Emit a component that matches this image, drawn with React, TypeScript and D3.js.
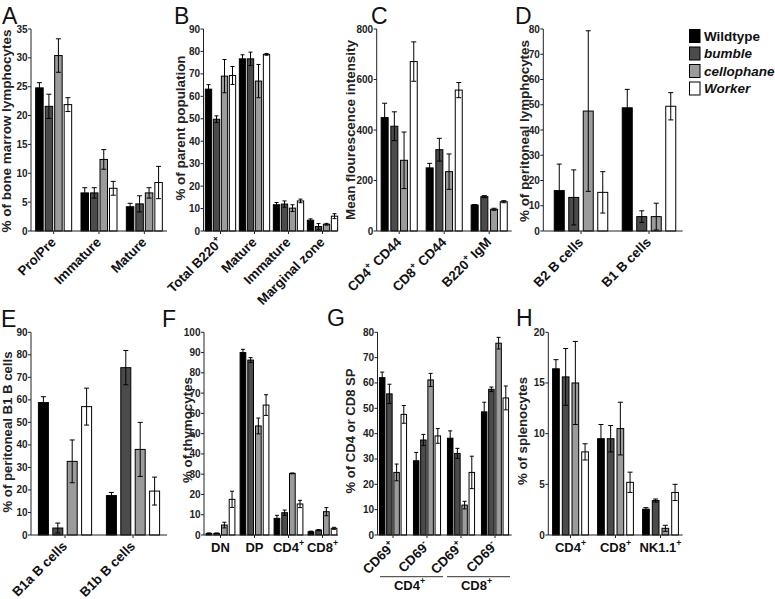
import React from 'react';
import * as d3 from 'd3';

// ---------- DATA ----------
const SERIES = ['Wildtype', 'bumble', 'cellophane', 'Worker'];
const SERIES_COLORS = ['#000000', '#4b4b4b', '#9b9b9b', '#ffffff'];

const A_categories = ['Pro/Pre', 'Immature', 'Mature'];
const A_wildtype = [24.8, 6.6, 4.2];
const A_bumble = [21.6, 6.6, 4.7];
const A_cellophane = [30.4, 12.4, 6.6];
const A_worker = [21.9, 7.4, 8.4];
const A_errWildtype = [0.9, 0.9, 0.6];
const A_errBumble = [2.1, 0.9, 1.4];
const A_errCellophane = [2.9, 1.7, 0.9];
const A_errWorker = [1.2, 1.2, 2.8];
const A_ticks = [0, 5, 10, 15, 20, 25, 30, 35];

const B_categories = ['Total B220+', 'Mature', 'Immature', 'Marginal zone'];
const B_wildtype = [63.2, 76.7, 11.7, 4.8];
const B_bumble = [49.8, 76.7, 12.0, 2.0];
const B_cellophane = [69.0, 66.8, 10.2, 3.0];
const B_worker = [69.3, 78.7, 13.4, 6.6];
const B_errWildtype = [2.0, 1.8, 1.0, 0.6];
const B_errBumble = [1.5, 3.0, 1.4, 1.3];
const B_errCellophane = [7.4, 7.4, 1.5, 0.4];
const B_errWorker = [4.0, 0.4, 0.8, 1.1];
const B_ticks = [0, 10, 20, 30, 40, 50, 60, 70, 80, 90];

const C_categories = ['CD4+ CD44', 'CD8+ CD44', 'B220+ IgM'];
const C_wildtype = [449, 250, 103];
const C_bumble = [415, 322, 136];
const C_cellophane = [280, 235, 86];
const C_worker = [671, 558, 116];
const C_errWildtype = [57, 18, 2];
const C_errBumble = [57, 45, 4];
const C_errCellophane = [112, 70, 4];
const C_errWorker = [78, 30, 4];
const C_ticks = [0, 200, 400, 600, 800];

const D_categories = ['B2 B cells', 'B1 B cells'];
const D_wildtype = [16.0, 48.8];
const D_bumble = [13.3, 5.7];
const D_cellophane = [47.5, 5.7];
const D_worker = [15.3, 49.4];
const D_errWildtype = [10.5, 7.3];
const D_errBumble = [10.9, 2.3];
const D_errCellophane = [31.8, 5.3];
const D_errWorker = [8.2, 5.4];
const D_ticks = [0, 10, 20, 30, 40, 50, 60, 70, 80];

const E_categories = ['B1a B cells', 'B1b B cells'];
const E_wildtype = [58.8, 17.5];
const E_bumble = [3.1, 74.3];
const E_cellophane = [32.7, 38.0];
const E_worker = [57.0, 19.5];
const E_errWildtype = [2.6, 1.4];
const E_errBumble = [2.2, 7.6];
const E_errCellophane = [9.5, 12.0];
const E_errWorker = [8.2, 6.2];
const E_ticks = [0, 10, 20, 30, 40, 50, 60, 70, 80, 90];

const F_categories = ['DN', 'DP', 'CD4+', 'CD8+'];
const F_wildtype = [0.8, 90.0, 8.2, 1.6];
const F_bumble = [0.8, 86.3, 11.0, 2.4];
const F_cellophane = [4.9, 53.8, 30.4, 11.5];
const F_worker = [17.6, 64.1, 15.3, 3.3];
const F_errWildtype = [0.2, 1.6, 1.5, 0.3];
const F_errBumble = [0.2, 1.2, 1.3, 0.3];
const F_errCellophane = [1.4, 3.9, 0.2, 2.0];
const F_errWorker = [4.0, 5.1, 1.8, 0.5];
const F_ticks = [0, 10, 20, 30, 40, 50, 60, 70, 80, 90, 100];

const G_categories = ['CD69+', 'CD69-', 'CD69+', 'CD69-'];
const G_groups = ['CD4+', 'CD8+'];
const G_wildtype = [62.1, 29.3, 38.2, 48.6];
const G_bumble = [55.7, 37.5, 32.2, 57.5];
const G_cellophane = [24.7, 61.2, 11.8, 75.7];
const G_worker = [47.6, 39.1, 24.7, 54.1];
const G_errWildtype = [2.2, 3.3, 2.9, 3.8];
const G_errBumble = [3.8, 2.2, 2.0, 0.9];
const G_errCellophane = [3.3, 2.6, 1.5, 2.3];
const G_errWorker = [3.5, 2.9, 6.4, 4.7];
const G_ticks = [0, 10, 20, 30, 40, 50, 60, 70, 80];

const H_categories = ['CD4+', 'CD8+', 'NK1.1+'];
const H_wildtype = [16.4, 9.5, 2.55];
const H_bumble = [15.6, 9.5, 3.4];
const H_cellophane = [15.0, 10.5, 0.66];
const H_worker = [8.2, 5.2, 4.2];
const H_errWildtype = [0.9, 1.4, 0.15];
const H_errBumble = [2.8, 1.3, 0.15];
const H_errCellophane = [4.1, 2.6, 0.3];
const H_errWorker = [0.8, 1.0, 0.8];
const H_ticks = [0, 5, 10, 15, 20];

// ---------- LAYOUT ----------
const FONT = "'Liberation Sans', Arial, Helvetica, sans-serif";
const TOP1 = 29, BOT1 = 231, TOP2 = 332.3, BOT2 = 535;

type PanelCfg = {
  letter: string; lx: number; ly: number;
  title: string; tx: number; ty: number; tlen: number;
  axisX: number; endX: number; range: [number, number];
  top: number; bottom: number; ticks: number[];
  pitch: number; bw: number; cap: number;
  cats: string[]; vals: number[][]; errs: number[][];
  rot: boolean;
};

const panels: PanelCfg[] = [
  { letter: 'A', lx: 2, ly: 24, title: '% of bone marrow lymphocytes', tx: 7, ty: 131, tlen: 203,
    axisX: 31, endX: 167, range: [31, 167], top: TOP1, bottom: BOT1, ticks: A_ticks,
    pitch: 9.5, bw: 7.5, cap: 5, cats: A_categories,
    vals: [A_wildtype, A_bumble, A_cellophane, A_worker],
    errs: [A_errWildtype, A_errBumble, A_errCellophane, A_errWorker], rot: true },
  { letter: 'B', lx: 174, ly: 24, title: '% of parent population', tx: 181, ty: 128, tlen: 145,
    axisX: 203.5, endX: 337, range: [203.5, 339.5], top: TOP1, bottom: BOT1, ticks: B_ticks,
    pitch: 8, bw: 6.3, cap: 4, cats: B_categories,
    vals: [B_wildtype, B_bumble, B_cellophane, B_worker],
    errs: [B_errWildtype, B_errBumble, B_errCellophane, B_errWorker], rot: true },
  { letter: 'C', lx: 371, ly: 24, title: 'Mean flourescence intensity', tx: 351, ty: 130, tlen: 180,
    axisX: 376.7, endX: 511.7, range: [376.7, 511.7], top: TOP1, bottom: BOT1, ticks: C_ticks,
    pitch: 9.7, bw: 7, cap: 5, cats: C_categories,
    vals: [C_wildtype, C_bumble, C_cellophane, C_worker],
    errs: [C_errWildtype, C_errBumble, C_errCellophane, C_errWorker], rot: true },
  { letter: 'D', lx: 515, ly: 24, title: '% of peritoneal lymphocytes', tx: 525, ty: 131, tlen: 182,
    axisX: 543.3, endX: 682.7, range: [547, 683], top: TOP1, bottom: BOT1, ticks: D_ticks,
    pitch: 14.5, bw: 10, cap: 5, cats: D_categories,
    vals: [D_wildtype, D_bumble, D_cellophane, D_worker],
    errs: [D_errWildtype, D_errBumble, D_errCellophane, D_errWorker], rot: true },
  { letter: 'E', lx: 1, ly: 327, title: '% of peritoneal B1 B cells', tx: 7.5, ty: 432, tlen: 161,
    axisX: 31, endX: 167, range: [31, 167], top: TOP2, bottom: BOT2, ticks: E_ticks,
    pitch: 14.4, bw: 10, cap: 5, cats: E_categories,
    vals: [E_wildtype, E_bumble, E_cellophane, E_worker],
    errs: [E_errWildtype, E_errBumble, E_errCellophane, E_errWorker], rot: true },
  { letter: 'F', lx: 162, ly: 327, title: '% of thymocytes', tx: 188, ty: 430, tlen: 106,
    axisX: 204, endX: 338, range: [203.5, 339.5], top: TOP2, bottom: BOT2, ticks: F_ticks,
    pitch: 7.7, bw: 5.7, cap: 4, cats: F_categories,
    vals: [F_wildtype, F_bumble, F_cellophane, F_worker],
    errs: [F_errWildtype, F_errBumble, F_errCellophane, F_errWorker], rot: false },
  { letter: 'G', lx: 327, ly: 326, title: '% of CD4 or CD8 SP', tx: 351, ty: 431, tlen: 125,
    axisX: 377.5, endX: 511.7, range: [376, 512], top: TOP2, bottom: BOT2, ticks: G_ticks,
    pitch: 7.2, bw: 5.5, cap: 4, cats: G_categories,
    vals: [G_wildtype, G_bumble, G_cellophane, G_worker],
    errs: [G_errWildtype, G_errBumble, G_errCellophane, G_errWorker], rot: true },
  { letter: 'H', lx: 516, ly: 326, title: '% of splenocytes', tx: 522.5, ty: 431, tlen: 108,
    axisX: 548.3, endX: 682.7, range: [548, 683], top: TOP2, bottom: BOT2, ticks: H_ticks,
    pitch: 9.7, bw: 6.7, cap: 5, cats: H_categories,
    vals: [H_wildtype, H_bumble, H_cellophane, H_worker],
    errs: [H_errWildtype, H_errBumble, H_errCellophane, H_errWorker], rot: false },
];

function labelSpans(s: string, fs: number) {
  const parts: { t: string; sup: boolean }[] = [];
  let buf = '';
  for (let i = 0; i < s.length; i++) {
    const c = s[i];
    if ((c === '+' || c === '-') && i > 0 && s[i - 1] !== ' ' && (i === s.length - 1 || s[i + 1] === ' ')) {
      if (buf) parts.push({ t: buf, sup: false });
      buf = '';
      parts.push({ t: c, sup: true });
    } else buf += c;
  }
  if (buf) parts.push({ t: buf, sup: false });
  let prevSup = false;
  return parts.map((p, i) => {
    let dy: number | undefined;
    if (p.sup) dy = -fs * 0.42;
    else if (prevSup) dy = fs * 0.42;
    prevSup = p.sup;
    return (
      <tspan key={i} dy={dy} fontSize={p.sup ? fs * 0.68 : fs}>{p.t}</tspan>
    );
  });
}

function Panel({ p }: { p: PanelCfg }) {
  const idx = p.cats.map((_, i) => String(i));
  const x0 = d3.scaleBand<string>().domain(idx).range(p.range).paddingInner(0).paddingOuter(0);
  const gw = 3 * p.pitch + p.bw;
  const x1 = d3.scaleBand<string>().domain(SERIES).range([-gw / 2, gw / 2])
    .paddingInner((p.pitch - p.bw) / p.pitch).paddingOuter(0);
  const yMax = p.ticks[p.ticks.length - 1];
  const y = d3.scaleLinear().domain([0, yMax]).range([p.bottom, p.top]);
  const cx = (i: number) => (x0(String(i)) as number) + x0.bandwidth() / 2;
  const tfs = 13;
  const rfs = 13.3;

  return (
    <g>
      <text x={p.lx} y={p.ly} fontSize={23} fontFamily={FONT} fill="#111">{p.letter}</text>
      <text transform={`translate(${p.tx},${p.ty}) rotate(-90)`} textAnchor="middle" dy="0.35em"
        fontSize={12.8} fontWeight="bold" fontFamily={FONT} fill="#222"
        textLength={p.tlen} lengthAdjust="spacingAndGlyphs">{p.title}</text>
      {/* bars */}
      {p.cats.map((_, ci) => (
        <g key={ci}>
          {SERIES.map((s, si) => {
            const v = p.vals[si][ci];
            const e = p.errs[si][ci];
            const bx = cx(ci) + (x1(s) as number);
            const mid = bx + p.bw / 2;
            const yTop = y(v);
            const eHi = y(v + e);
            const eLo = y(Math.max(0, v - e));
            return (
              <g key={s}>
                <rect x={bx} y={yTop} width={p.bw} height={p.bottom - yTop}
                  fill={SERIES_COLORS[si]} stroke="#000" strokeWidth={1} />
                <line x1={mid} x2={mid} y1={eHi} y2={eLo} stroke="#000" strokeWidth={1} />
                <line x1={mid - p.cap / 2} x2={mid + p.cap / 2} y1={eHi} y2={eHi} stroke="#000" strokeWidth={1} />
                <line x1={mid - p.cap / 2} x2={mid + p.cap / 2} y1={eLo} y2={eLo} stroke="#000" strokeWidth={1} />
              </g>
            );
          })}
        </g>
      ))}
      {/* y axis */}
      <line x1={p.axisX} x2={p.axisX} y1={p.top} y2={p.bottom} stroke="#222" strokeWidth={1} />
      {p.ticks.map((t) => (
        <g key={t}>
          <line x1={p.axisX - 3} x2={p.axisX} y1={y(t)} y2={y(t)} stroke="#222" strokeWidth={1} />
          <text x={p.axisX - 3.5} y={y(t)} dy="0.35em" textAnchor="end" fontSize={10}
            fontWeight="bold" fontFamily={FONT} fill="#222">{t}</text>
        </g>
      ))}
      {/* x axis */}
      <line x1={p.axisX} x2={p.endX} y1={p.bottom} y2={p.bottom} stroke="#222" strokeWidth={1} />
      {p.cats.map((c, ci) => (
        <g key={'t' + ci}>
          <line x1={cx(ci)} x2={cx(ci)} y1={p.bottom} y2={p.bottom + 3} stroke="#222" strokeWidth={1} />
          {p.rot ? (
            <text transform={`translate(${cx(ci) + 3},${p.bottom + 12}) rotate(-45)`} textAnchor="end"
              fontSize={rfs} fontWeight="bold" fontFamily={FONT} fill="#111">{labelSpans(c, rfs)}</text>
          ) : (
            <text x={cx(ci)} y={p.bottom + 16.5} textAnchor="middle" fontSize={tfs}
              fontWeight="bold" fontFamily={FONT} fill="#111">{labelSpans(c, tfs)}</text>
          )}
        </g>
      ))}
      {p.letter === 'G' && G_groups.map((g, gi) => {
        const xa = (x0(String(gi * 2)) as number) + (gi === 0 ? 4 : 3);
        const xb = (x0(String(gi * 2 + 1)) as number) + x0.bandwidth() - (gi === 0 ? 1 : 2);
        return (
          <g key={g}>
            <line x1={xa} x2={xb} y1={576.7} y2={576.7} stroke="#333" strokeWidth={1} />
            <text x={(xa + xb) / 2 - 2} y={589.5} textAnchor="middle" fontSize={tfs}
              fontWeight="bold" fontFamily={FONT} fill="#111">{labelSpans(g, tfs)}</text>
          </g>
        );
      })}
    </g>
  );
}

function Legend() {
  return (
    <g>
      {SERIES.map((s, i) => (
        <g key={s}>
          <rect x={689.5} y={29.5 + i * 17.5} width={10.5} height={13} fill={SERIES_COLORS[i]}
            stroke="#000" strokeWidth={1} />
          <text x={704} y={40.5 + i * 17.5} fontSize={13.5} fontWeight="bold"
            fontStyle={i === 0 ? 'normal' : 'italic'} fontFamily={FONT} fill="#111">{s}</text>
        </g>
      ))}
    </g>
  );
}

export default function App() {
  return (
    <div style={{ position: 'absolute', left: 0, top: 0 }}>
      <svg width={775} height={599} viewBox="0 0 775 599" style={{ display: 'block', background: '#fff' }}>
        <rect x={0} y={0} width={775} height={599} fill="#fff" />
        {panels.map((p) => <Panel key={p.letter} p={p} />)}
        <Legend />
      </svg>
    </div>
  );
}
